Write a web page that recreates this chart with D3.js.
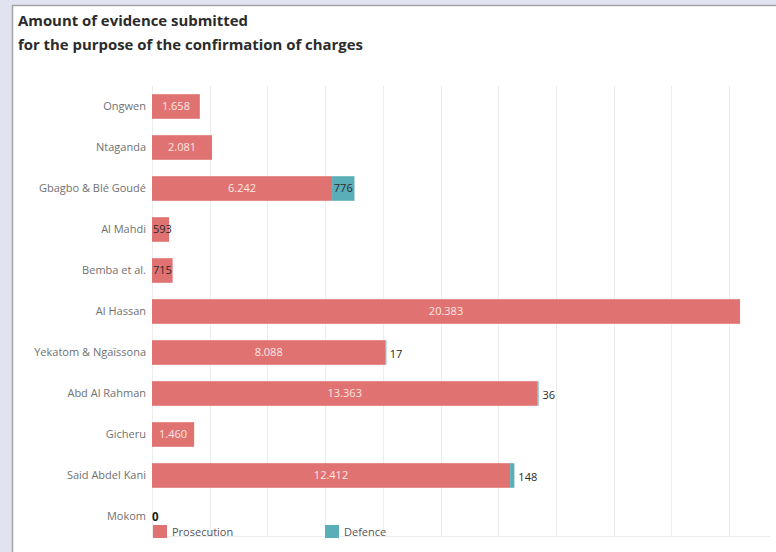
<!DOCTYPE html>
<html>
<head>
<meta charset="utf-8">
<script src="https://cdn.jsdelivr.net/npm/d3@7"></script>
<style>
  html, body { margin: 0; padding: 0; background: #e1e3f0; }
  svg { display: block; }
</style>
</head>
<body>
<svg id="chart" width="776" height="552"></svg>
<script>
// Evidence submitted per case (prosecution / defence)
const categories = ["Ongwen", "Ntaganda", "Gbagbo & Blé Goudé", "Al Mahdi", "Bemba et al.",
  "Al Hassan", "Yekatom & Ngaïssona", "Abd Al Rahman", "Gicheru", "Said Abdel Kani", "Mokom"];
const prosecution = [1658, 2081, 6242, 593, 715, 20383, 8088, 13363, 1460, 12412, 0];
const defence = [null, null, 776, null, null, null, 17, 36, null, 148, null];
const gridTicks = [0, 2000, 4000, 6000, 8000, 10000, 12000, 14000, 16000, 18000, 20000];
const seriesNames = ["Prosecution", "Defence"];

const colors = { Prosecution: "#e07371", Defence: "#5aaeb8" };
const fmt = d3.formatLocale({ decimal: ",", thousands: ".", grouping: [3] }).format(",d");
const labelFont = "'Open Sans', 'Noto Sans', sans-serif";

const svg = d3.select("#chart");

// White panel with its grey frame
svg.append("rect").attr("x", 12.5).attr("y", 5.5).attr("width", 770).attr("height", 560)
  .attr("fill", "#ffffff").attr("stroke", "#a3a3a3").attr("stroke-width", 1.5);

// Title
const title = svg.append("text").attr("x", 18).attr("fill", "#2b2b2b")
  .attr("font-family", "'Open Sans', sans-serif").attr("font-weight", 700).attr("font-size", 14.9);
title.append("tspan").attr("x", 18).attr("y", 26).text("Amount of evidence submitted");
title.append("tspan").attr("x", 18).attr("y", 50).text("for the purpose of the confirmation of charges");

const x = d3.scaleLinear().domain([0, 20000]).range([152, 729]);
const y = d3.scaleBand().domain(categories).range([86, 537]).paddingInner(0.4).paddingOuter(0.2);

// Vertical gridlines
svg.append("g").selectAll("line").data(gridTicks).join("line")
  .attr("x1", d => Math.round(x(d)) + 0.5).attr("x2", d => Math.round(x(d)) + 0.5)
  .attr("y1", 86).attr("y2", 537)
  .attr("stroke", "#ececec").attr("stroke-width", 1);
svg.append("line").attr("x1", 152).attr("x2", 770).attr("y1", 536.5).attr("y2", 536.5)
  .attr("stroke", "#ececec");

// Category labels
const yAxis = d3.axisLeft(y).tickSize(0).tickPadding(6);
const ag = svg.append("g").attr("transform", "translate(152,0)").call(yAxis);
ag.select(".domain").remove();
ag.selectAll("text").attr("font-family", labelFont).attr("font-size", 11)
  .attr("fill", "#717171");

const rows = categories.map((c, i) => ({ c, p: prosecution[i], d: defence[i] }));

// Stacked bars
const bars = svg.append("g");
bars.selectAll("rect.p").data(rows.filter(r => r.p > 0)).join("rect")
  .attr("class", "p")
  .attr("x", x(0)).attr("y", r => y(r.c))
  .attr("width", r => x(r.p) - x(0)).attr("height", y.bandwidth())
  .attr("fill", colors.Prosecution);
bars.selectAll("rect.d").data(rows.filter(r => r.d)).join("rect")
  .attr("class", "d")
  .attr("x", r => x(r.p)).attr("y", r => y(r.c))
  .attr("width", r => Math.max(1, x(r.p + r.d) - x(r.p))).attr("height", y.bandwidth())
  .attr("fill", colors.Defence);

// Value labels
const lab = svg.append("g").attr("font-family", labelFont).attr("font-size", 11);
rows.forEach(r => {
  const cy = y(r.c) + y.bandwidth() / 2;
  const t = lab.append("text").attr("y", cy).attr("dy", "0.35em").text(fmt(r.p));
  const w = t.node().getComputedTextLength();
  const bw = x(r.p) - x(0);
  if (r.p === 0) {
    t.attr("x", x(0)).attr("font-weight", 700).attr("fill", "#1a1a1a").attr("font-size", 11.5);
  } else if (bw >= w + 6) {
    t.attr("x", x(0) + bw / 2).attr("text-anchor", "middle").attr("fill", "#fde6e6");
  } else {
    t.attr("x", x(0) + 1).attr("fill", "#2a2a2a");
  }
  if (r.d) {
    const td = lab.append("text").attr("y", cy).attr("dy", "0.35em").attr("fill", "#2a2a2a").text(fmt(r.d));
    const wd = td.node().getComputedTextLength();
    const sw = x(r.p + r.d) - x(r.p);
    if (sw >= wd + 2) {
      td.attr("x", x(r.p) + sw / 2).attr("text-anchor", "middle");
    } else {
      td.attr("x", x(r.p + r.d) + 4).attr("dy", "0.5em");
    }
  }
});

// Legend
const legendX = [153, 325];
const lg = svg.append("g").selectAll("g").data(seriesNames).join("g")
  .attr("transform", (d, i) => `translate(${legendX[i]},525)`);
lg.append("rect").attr("width", 14).attr("height", 13).attr("fill", d => colors[d]);
lg.append("text").attr("x", 19).attr("y", 11).attr("font-family", labelFont)
  .attr("font-size", 11).attr("fill", "#555").text(d => d);
</script>
</body>
</html>
